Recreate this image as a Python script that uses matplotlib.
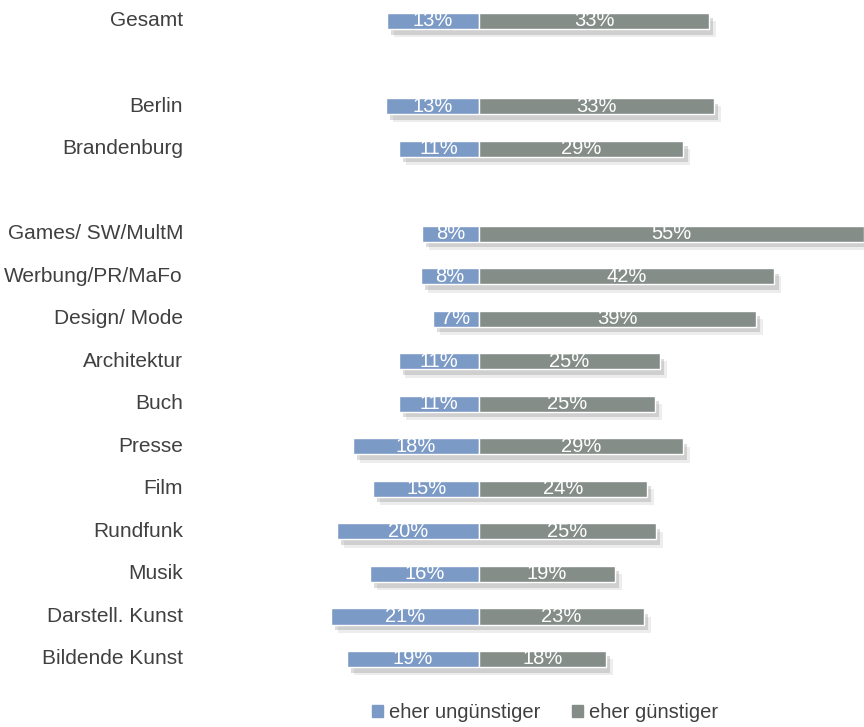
import numpy as np
import matplotlib.pyplot as plt
import matplotlib.patheffects as pe
import matplotlib.transforms as mtransforms
from matplotlib.patches import Patch

plt.rcParams['font.family'] = ['Liberation Sans Narrow', 'Liberation Sans', 'DejaVu Sans']

categories = ['Gesamt', 'Berlin', 'Brandenburg', 'Games/ SW/MultM', 'Werbung/PR/MaFo',
              'Design/ Mode', 'Architektur', 'Buch', 'Presse', 'Film', 'Rundfunk',
              'Musik', 'Darstell. Kunst', 'Bildende Kunst']
rows = [0, 2, 3, 5, 6, 7, 8, 9, 10, 11, 12, 13, 14, 15]
worse = [13, 13, 11, 8, 8, 7, 11, 11, 18, 15, 20, 16, 21, 19]
better = [33, 33, 29, 55, 42, 39, 25, 25, 29, 24, 25, 19, 23, 18]
# exact bar ends (labels are rounded)
worse_len = [13.1, 13.3, 11.4, 8.2, 8.3, 6.6, 11.5, 11.4, 18.0, 15.1, 20.3, 15.6, 21.1, 18.9]
better_len = [32.9, 33.6, 29.2, 55.0, 42.2, 39.6, 25.8, 25.1, 29.1, 24.0, 25.3, 19.4, 23.6, 18.1]

blue = '#7c9ac6'
grey = '#858d89'
text_col = '#404040'

fig = plt.figure(figsize=(8.64, 7.27), dpi=100)
ax = fig.add_axes([300 / 864, 47 / 727, 564 / 864, 680 / 727])

shadow = [pe.SimplePatchShadow(offset=(5, -6), shadow_rgbFace='#888888', alpha=0.15),
          pe.SimplePatchShadow(offset=(3, -4), shadow_rgbFace='#777777', alpha=0.25),
          pe.Normal()]
h = 0.38
b1 = ax.barh(rows, [-v for v in worse_len], height=h, color=blue, edgecolor='white', linewidth=1)
b2 = ax.barh(rows, better_len, height=h, color=grey, edgecolor='white', linewidth=1)
for b in list(b1) + list(b2):
    b.set_path_effects(shadow)

for r, w, g, wl, gl in zip(rows, worse, better, worse_len, better_len):
    ax.text(-wl / 2, r, f'{w}%', ha='center', va='center', color='white', fontsize=14.5)
    ax.text(gl / 2, r, f'{g}%', ha='center', va='center', color='white', fontsize=14.5)

trans = mtransforms.blended_transform_factory(fig.transFigure, ax.transData)
for r, c in zip(rows, categories):
    ax.text(183 / 864, r, c, transform=trans, ha='right', va='center',
            color=text_col, fontsize=15)

ax.set_xlim((300 - 479) / 7, (864 - 479) / 7)
ax.set_ylim((680 - 21) / 42.53, -21 / 42.53)
ax.axis('off')

handles = [Patch(color=blue), Patch(color=grey)]
fig.legend(handles, ['eher ungünstiger', 'eher günstiger'], loc='center',
           bbox_to_anchor=(545 / 864, 1 - 713 / 727), ncol=2, frameon=False,
           fontsize=14.5, handlelength=0.55, handleheight=0.55, handletextpad=0.3,
           columnspacing=1.6, labelcolor=text_col)

fig.savefig('out.png', dpi=100)
